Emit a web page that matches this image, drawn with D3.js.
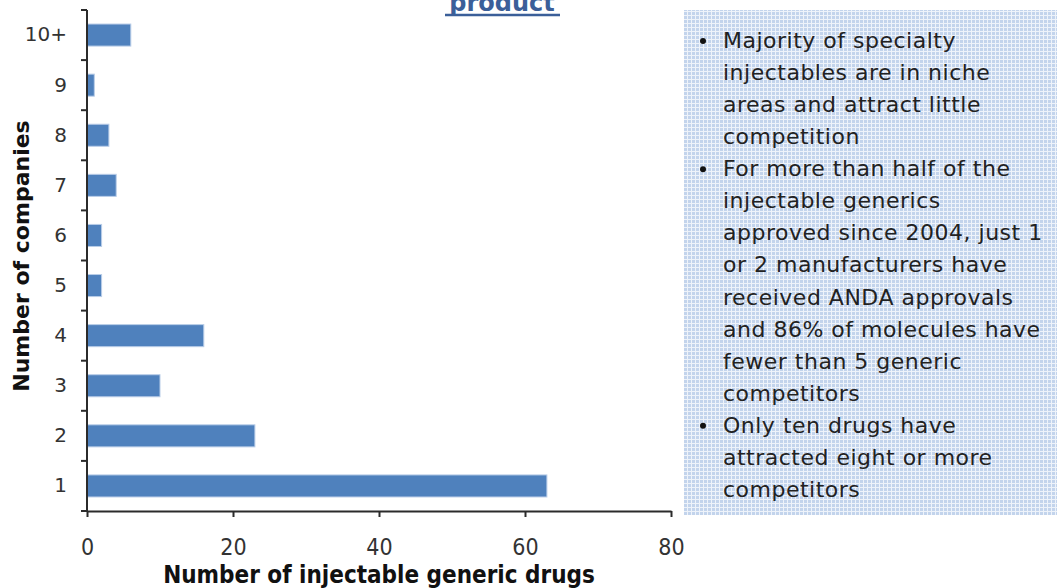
<!DOCTYPE html>
<html>
<head>
<meta charset="utf-8">
<script src="https://cdn.jsdelivr.net/npm/d3@7"></script>
<style>
  html, body { margin: 0; padding: 0; background: #ffffff; }
  svg { display: block; }
</style>
</head>
<body>
<svg id="chart" width="1057" height="588"></svg>
<script>
// Number of companies holding an approval, per injectable generic drug
const categories = ["10+", "9", "8", "7", "6", "5", "4", "3", "2", "1"];
const drugCounts = [6, 1, 3, 4, 2, 2, 16, 10, 23, 63];
const xTicks = [0, 20, 40, 60, 80];

const notes = [
  ["Majority of specialty", "injectables are in niche", "areas and attract little", "competition"],
  ["For more than half of the", "injectable generics", "approved since 2004, just 1", "or 2 manufacturers have",
   "received ANDA approvals", "and 86% of molecules have", "fewer than 5 generic", "competitors"],
  ["Only ten drugs have", "attracted eight or more", "competitors"]
];

const svg = d3.select("#chart");
const plotLeft = 87, plotRight = 671, plotTop = 10, plotBottom = 511;
const axisColor = "#2b2b2b";

const x = d3.scaleLinear().domain([0, 80]).range([plotLeft, plotRight]);
const y = d3.scaleBand().domain(categories).range([plotTop, plotBottom])
  .paddingInner(0.56).paddingOuter(0.28);

// Title fragment (rest lies above the visible area)
svg.append("text")
  .attr("x", 502).attr("y", 11)
  .attr("text-anchor", "middle")
  .attr("font-family", "DejaVu Sans, Verdana, sans-serif")
  .attr("font-weight", "bold")
  .attr("font-size", 24)
  .attr("fill", "#3b5f99")
  .text("product");
svg.append("line")
  .attr("x1", 445).attr("x2", 560).attr("y1", 15).attr("y2", 15)
  .attr("stroke", "#3b5f99").attr("stroke-width", 2.5);

// Bars
svg.append("g").selectAll("rect")
  .data(categories.map((c, i) => ({ c, v: drugCounts[i] })))
  .join("rect")
  .attr("x", x(0))
  .attr("y", d => y(d.c))
  .attr("width", d => x(d.v) - x(0))
  .attr("height", y.bandwidth())
  .attr("fill", "#4f81bd")
  .attr("stroke", "#b9cde8")
  .attr("stroke-width", 1);

// Y axis: labels at band centres, ticks at band boundaries
const yAxis = svg.append("g")
  .attr("transform", `translate(${plotLeft},0)`)
  .call(d3.axisLeft(y).tickSize(0).tickPadding(20));
yAxis.select(".domain").remove();
yAxis.selectAll("text")
  .attr("font-family", "DejaVu Sans, Verdana, sans-serif")
  .attr("font-size", 20)
  .attr("fill", "#333");

const boundaries = d3.range(categories.length + 1).map(i => plotTop + i * y.step());
svg.append("g").selectAll("line")
  .data(boundaries)
  .join("line")
  .attr("x1", plotLeft - 6).attr("x2", plotLeft)
  .attr("y1", d => d).attr("y2", d => d)
  .attr("stroke", axisColor).attr("stroke-width", 2);
svg.append("line")
  .attr("x1", plotLeft).attr("x2", plotLeft).attr("y1", plotTop).attr("y2", plotBottom)
  .attr("stroke", axisColor).attr("stroke-width", 2);

// X axis
const xAxis = svg.append("g")
  .attr("transform", `translate(0,${plotBottom})`)
  .call(d3.axisBottom(x).tickValues(xTicks).tickSize(6).tickPadding(22).tickSizeOuter(0));
xAxis.select(".domain").attr("stroke", axisColor).attr("stroke-width", 2);
xAxis.selectAll(".tick line").attr("stroke", axisColor).attr("stroke-width", 2);
xAxis.selectAll("text")
  .attr("font-family", "DejaVu Sans Condensed, DejaVu Sans, sans-serif")
  .attr("font-size", 23)
  .attr("fill", "#333");

// Axis titles
svg.append("text")
  .attr("x", 379).attr("y", 583)
  .attr("text-anchor", "middle")
  .attr("font-family", "DejaVu Sans Condensed, DejaVu Sans, sans-serif")
  .attr("font-weight", "bold")
  .attr("font-size", 24)
  .attr("fill", "#111")
  .text("Number of injectable generic drugs");

svg.append("text")
  .attr("transform", "translate(29,256) rotate(-90)")
  .attr("text-anchor", "middle")
  .attr("font-family", "DejaVu Sans, Verdana, sans-serif")
  .attr("font-weight", "bold")
  .attr("font-size", 22)
  .attr("fill", "#111")
  .text("Number of companies");

// Note box with a fine checked fill
const defs = svg.append("defs");
const pat = defs.append("pattern")
  .attr("id", "check").attr("patternUnits", "userSpaceOnUse")
  .attr("width", 4).attr("height", 4);
pat.append("rect").attr("width", 4).attr("height", 4).attr("fill", "#c3d4ec");
pat.append("rect").attr("x", 3).attr("width", 1).attr("height", 4).attr("fill", "#eef3fa");
pat.append("rect").attr("y", 3).attr("width", 4).attr("height", 1).attr("fill", "#eef3fa");

svg.append("rect")
  .attr("x", 684).attr("y", 10).attr("width", 373).attr("height", 505)
  .attr("fill", "url(#check)");

const noteText = svg.append("g")
  .attr("font-family", "DejaVu Sans, Verdana, sans-serif")
  .attr("font-size", 22)
  .attr("letter-spacing", 0.5)
  .attr("fill", "#222");
let line = 0;
notes.forEach(block => {
  block.forEach((t, j) => {
    const yy = 48 + line * 32.07;
    if (j === 0) {
      noteText.append("circle").attr("cx", 703).attr("cy", yy - 7).attr("r", 3).attr("fill", "#111");
    }
    noteText.append("text").attr("x", 723).attr("y", yy).text(t);
    line++;
  });
});
</script>
</body>
</html>
